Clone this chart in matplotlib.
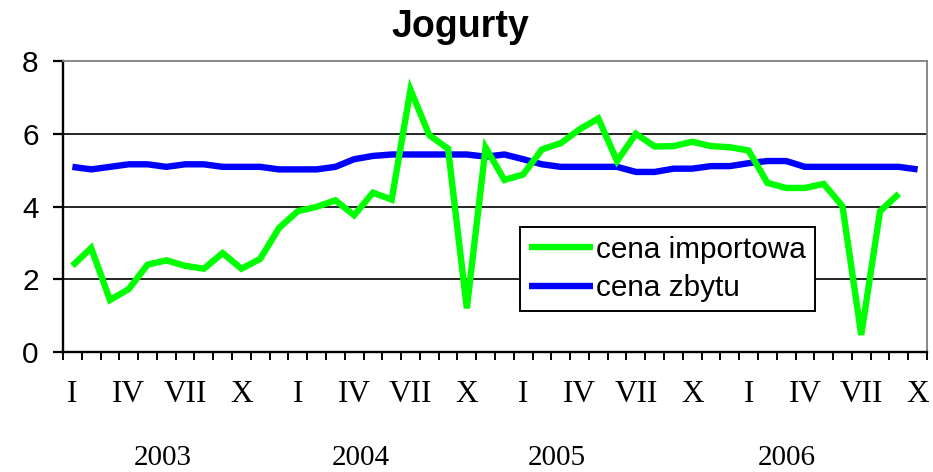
import matplotlib
matplotlib.use("Agg")
import matplotlib.pyplot as plt
from matplotlib.transforms import blended_transform_factory

# ---- data ----
months_roman = ["I", "II", "III", "IV", "V", "VI", "VII", "VIII", "IX", "X", "XI", "XII"]
years = ["2003", "2004", "2005", "2006"]
n_months = 46  # I 2003 .. X 2006

cena_importowa = [
    2.37, 2.86, 1.43, 1.73, 2.40, 2.52, 2.37, 2.29, 2.72, 2.29, 2.56, 3.41,   # 2003
    3.87, 3.99, 4.17, 3.76, 4.38, 4.19, 7.21, 5.96, 5.59, 1.20, 5.62, 4.73,   # 2004
    4.88, 5.57, 5.74, 6.12, 6.42, 5.25, 6.00, 5.65, 5.66, 5.78, 5.66, 5.63,   # 2005
    5.54, 4.65, 4.51, 4.51, 4.62, 4.01, 0.47, 3.87, 4.35,                     # 2006
]
cena_zbytu = [
    5.09, 5.02, 5.09, 5.16, 5.16, 5.09, 5.16, 5.16, 5.09, 5.09, 5.09, 5.02,
    5.02, 5.02, 5.09, 5.30, 5.39, 5.43, 5.43, 5.43, 5.43, 5.43, 5.37, 5.43,
    5.30, 5.16, 5.09, 5.09, 5.09, 5.09, 4.95, 4.95, 5.04, 5.04, 5.11, 5.11,
    5.19, 5.25, 5.25, 5.09, 5.09, 5.09, 5.09, 5.09, 5.09, 5.02,
]
series_labels = ["cena importowa", "cena zbytu"]
yticks = [0, 2, 4, 6, 8]

# ---- figure ----
W, H, DPI = 933, 472, 100
fig = plt.figure(figsize=(W / DPI, H / DPI), dpi=DPI)
ax = fig.add_axes([63 / W, (H - 352) / H, (927 - 63) / W, (352 - 61) / H])

sans = ["Liberation Sans", "DejaVu Sans"]
serif = ["Liberation Serif", "DejaVu Serif"]

x_imp = list(range(len(cena_importowa)))
x_zb = list(range(len(cena_zbytu)))
l1, = ax.plot(x_imp, cena_importowa, color="#00FF00", lw=4.6, zorder=4,
              solid_joinstyle="miter", solid_capstyle="butt", label=series_labels[0])
l2, = ax.plot(x_zb, cena_zbytu, color="#0000FF", lw=4.6, zorder=3,
              solid_joinstyle="round", solid_capstyle="butt", label=series_labels[1])

ax.set_xlim(-0.5, n_months - 0.5)
ax.set_ylim(0, 8)

# y axis
ax.set_yticks(yticks)
ax.set_yticklabels([str(v) for v in yticks], fontfamily=sans, fontsize=21.5)
ax.tick_params(axis="y", direction="out", length=7, width=1.6, pad=10.5, color="black")
for v in yticks[1:-1]:
    ax.axhline(v, color="black", lw=1.2, zorder=1)

# x axis: minor ticks at month boundaries, labels every 3rd month
ax.set_xticks([k - 0.5 for k in range(n_months + 1)], minor=True)
major_pos = [i for i in range(n_months) if i % 3 == 0]
ax.set_xticks(major_pos)
ax.set_xticklabels([months_roman[i % 12] for i in major_pos], fontfamily=serif, fontsize=22.5)
ax.tick_params(axis="x", which="major", length=0, pad=20)
ax.tick_params(axis="x", which="minor", direction="out", length=6, width=1.4, color="black")

# year labels (baseline placed in figure pixels below the axis)
trans = blended_transform_factory(ax.transData, fig.transFigure)
year_x = [4.82, 15.37, 25.8, 38.05]
for yx, yr in zip(year_x, years):
    ax.text(yx, (H - 465) / H, yr, transform=trans, ha="center", va="baseline",
            fontfamily=serif, fontsize=21)

# spines
for s in ["left", "bottom"]:
    ax.spines[s].set_color("black")
    ax.spines[s].set_linewidth(1.7)
for s in ["top", "right"]:
    ax.spines[s].set_color("#808080")
    ax.spines[s].set_linewidth(1.3)

# title
fig.text(460 / W, (H - 37) / H, "Jogurty", ha="center", va="baseline",
         fontfamily=sans, fontsize=27, fontweight="bold")

# legend
leg = ax.legend(handles=[l1, l2], loc="upper left", bbox_to_anchor=(0.529, 0.43),
                borderaxespad=0, frameon=True, fancybox=False, shadow=False,
                prop={"family": sans, "size": 21.4}, handlelength=2.15,
                handletextpad=0.1, labelspacing=0.36, borderpad=0.3)
leg.get_frame().set_edgecolor("black")
leg.get_frame().set_linewidth(1.4)
leg.get_frame().set_alpha(1)
leg.set_zorder(5)

fig.savefig("out.png", dpi=DPI)
